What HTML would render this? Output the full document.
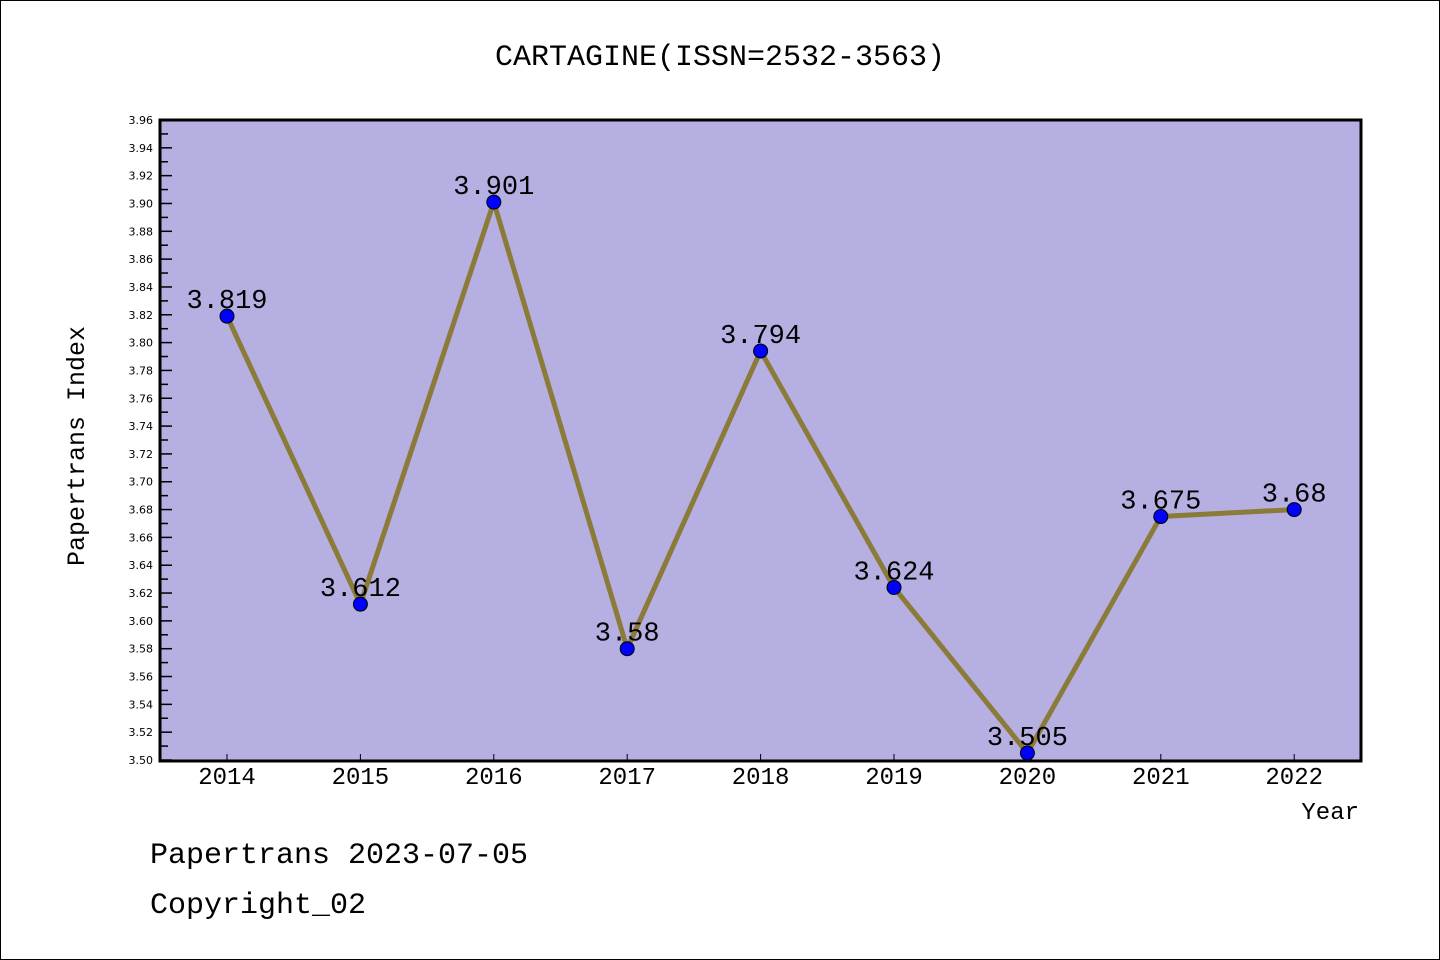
<!DOCTYPE html>
<html><head><meta charset="utf-8"><style>
body{margin:0;background:#fff}
svg{display:block}
text{font-family:"Liberation Mono","WenQuanYi Zen Hei",monospace;fill:#000}
text.yt{font-family:"DejaVu Sans","Liberation Sans",sans-serif}
</style></head><body>
<svg id="chart" width="1440" height="960" xmlns="http://www.w3.org/2000/svg">
<rect x="0.5" y="0.5" width="1439" height="959" fill="#fff" stroke="#000"/>
<text x="720" y="65" font-size="30" text-anchor="middle">CARTAGINE(ISSN=2532-3563)</text>
<rect x="160" y="120" width="1201" height="641" fill="#b5afe2"/>
<g id="ticks"></g>
<g id="series"></g>
<rect x="160" y="120" width="1201" height="641" fill="none" stroke="#000" stroke-width="3"/>
<text transform="translate(84,446) rotate(-90)" font-size="25" text-anchor="middle">Papertrans Index</text>
<text x="1359" y="819" font-size="24" text-anchor="end">Year</text>
<text x="150" y="863" font-size="30">Papertrans 2023-07-05</text>
<text x="150" y="913" font-size="30">Copyright_02</text>
</svg>
<script>
const years=[2014,2015,2016,2017,2018,2019,2020,2021,2022];
const values=[3.819,3.612,3.901,3.58,3.794,3.624,3.505,3.675,3.68];
const labels=["3.819","3.612","3.901","3.58","3.794","3.624","3.505","3.675","3.68"];
const yTicks=["3.50","3.52","3.54","3.56","3.58","3.60","3.62","3.64","3.66","3.68","3.70","3.72","3.74","3.76","3.78","3.80","3.82","3.84","3.86","3.88","3.90","3.92","3.94","3.96"];
const NS="http://www.w3.org/2000/svg";
const yMin=3.50,yMax=3.96,top_=120,bot=760;
function ys(v){return bot-(v-yMin)/(yMax-yMin)*(bot-top_);}
function xs(i){return 227+i*133.4;}
function mk(t,a,p){const e=document.createElementNS(NS,t);for(const k in a)e.setAttribute(k,a[k]);p.appendChild(e);return e;}
const tg=document.getElementById('ticks');
yTicks.forEach((t,i)=>{
  const v=parseFloat(t),y=ys(v);
  const tl=mk('line',{x1:160,x2:172,y1:y,y2:y,stroke:'#000','stroke-width':1.5},tg);
  
  
  const tx=mk('text',{x:153,y:y+4,'font-size':11,'text-anchor':'end','class':'yt'},tg);
  tx.textContent=t;
  
  
  if(i<yTicks.length-1){
    const ym=ys(v+0.01);
    const ml=mk('line',{x1:160,x2:168,y1:ym,y2:ym,stroke:'#000','stroke-width':1.5},tg);
    
    
  }
});
years.forEach((yr,i)=>{
  const x=xs(i);
  const l=mk('line',{x1:x,x2:x,y1:bot-6,y2:bot,stroke:'#000','stroke-width':1},tg);
  
  
  const t=mk('text',{x:x,y:784,'font-size':24,'text-anchor':'middle'},tg);
  t.textContent=yr;
  
  
});
const sg=document.getElementById('series');
const pts=values.map((v,i)=>xs(i)+','+ys(v)).join(' ');
const pl=mk('polyline',{points:pts,fill:'none',stroke:'#8b7b38','stroke-width':5,'stroke-linejoin':'round'},sg);


values.forEach((v,i)=>{
  const c=mk('circle',{cx:xs(i),cy:ys(v),r:7,fill:'#0000ff',stroke:'#000','stroke-width':1},sg);
  
  
  const t=mk('text',{x:xs(i),y:ys(v)-8,'font-size':27,'text-anchor':'middle'},sg);
  t.textContent=labels[i];
  
  
});
</script>
</body></html>
